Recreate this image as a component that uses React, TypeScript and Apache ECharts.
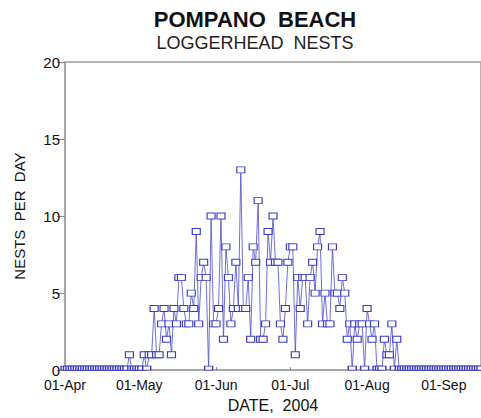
import React, { useEffect, useRef } from "react";
import * as echarts from "echarts";

const START_DATE = "2004-04-01";
const DAY_COUNT = 169;
const MONTHS = ["Jan","Feb","Mar","Apr","May","Jun","Jul","Aug","Sep","Oct","Nov","Dec"];

const dates: string[] = (() => {
  const out: string[] = [];
  const s = new Date(START_DATE + "T00:00:00Z");
  for (let i = 0; i < DAY_COUNT; i++) {
    const d = new Date(s.getTime() + i * 86400000);
    const dd = String(d.getUTCDate()).padStart(2, "0");
    out.push(dd + "-" + MONTHS[d.getUTCMonth()]);
  }
  return out;
})();

// nests per day, Apr 1 .. Sep 16, 2004
const nestsApr = [0,0,0,0,0,0,0,0,0,0,0,0,0,0,0,0,0,0,0,0,0,0,0,0,0,0,1,0,0,0];
const nestsMay = [0,0,1,0,1,1,4,1,1,3,4,2,3,1,4,3,6,6,4,3,3,5,4,9,3,6,7,6,0,10,3];
const nestsJun = [3,4,10,2,8,6,3,4,7,4,13,4,4,6,2,8,7,11,2,2,3,9,7,10,7,7,3,2,4,7];
const nestsJul = [8,8,1,6,4,6,6,3,6,7,5,8,9,3,5,3,3,8,5,5,4,6,5,2,3,0,3,2,3,3,0];
const nestsAug = [4,3,2,3,0,0,0,2,1,1,3,0,2,0,0,0,0,0,0,0,0,0,0,0,0,0,0,0,0,0,0];
const nestsSep = [0,0,0,0,0,0,0,0,0,0,0,0,0,0,0,0];

const nests = [...nestsApr, ...nestsMay, ...nestsJun, ...nestsJul, ...nestsAug, ...nestsSep];

const yTicks = [0, 5, 10, 15, 20];

const FONT = "'Liberation Sans', Arial, sans-serif";

export default function App() {
  const ref = useRef<HTMLDivElement>(null);
  useEffect(() => {
    if (!ref.current) return;
    const chart = echarts.init(ref.current, undefined, { renderer: "svg" });
    const isMonthStart = (_i: number, v: string) => v.startsWith("01-");
    const seriesData = nests.map((v) =>
      v === 0
        ? { value: v, symbolSize: [8, 4], symbolOffset: [0, -2] }
        : { value: v }
    );
    chart.setOption({
      animation: false,
      backgroundColor: "#ffffff",
      textStyle: { fontFamily: FONT },
      graphic: [
        {
          type: "text",
          x: 255,
          y: 8,
          style: {
            text: "POMPANO  BEACH",
            font: "bold 22px " + FONT,
            fill: "#111",
            textAlign: "center",
            textVerticalAlign: "top",
          },
        },
        {
          type: "text",
          x: 255,
          y: 34,
          style: {
            text: "LOGGERHEAD  NESTS",
            font: "18px " + FONT,
            fill: "#222",
            textAlign: "center",
            textVerticalAlign: "top",
          },
        },
      ],
      grid: {
        left: 65,
        top: 62,
        width: 420,
        height: 310,
        show: true,
        borderColor: "#a0a0a0",
        borderWidth: 1.5,
      },
      xAxis: {
        type: "category",
        data: dates,
        boundaryGap: false,
        name: "DATE,  2004",
        nameLocation: "middle",
        nameGap: 24,
        nameTextStyle: { fontSize: 16, color: "#111", fontFamily: FONT },
        axisLine: { show: true, lineStyle: { color: "#a0a0a0", width: 1.5 } },
        axisTick: { show: true, inside: true, length: 3, interval: isMonthStart, lineStyle: { color: "#888" } },
        axisLabel: { interval: isMonthStart, fontSize: 14, lineHeight: 14, color: "#111", margin: 8, fontFamily: FONT },
        splitLine: { show: false },
      },
      yAxis: {
        type: "value",
        min: yTicks[0],
        max: yTicks[yTicks.length - 1],
        interval: 5,
        name: "NESTS  PER  DAY",
        nameLocation: "middle",
        nameGap: 38,
        nameRotate: 90,
        nameTextStyle: { fontSize: 15, color: "#111", fontFamily: FONT },
        axisLine: { show: true, lineStyle: { color: "#a0a0a0", width: 1.5 } },
        axisTick: { show: true, inside: false, length: 8, lineStyle: { color: "#888" } },
        axisLabel: { fontSize: 15, lineHeight: 13, color: "#111", margin: 5, fontFamily: FONT },
        splitLine: { show: false },
      },
      series: [
        {
          type: "line",
          data: seriesData,
          symbol: "rect",
          symbolSize: [8, 6],
          showAllSymbol: true,
          clip: false,
          lineStyle: { color: "#4a4ad0", width: 0.8 },
          itemStyle: { color: "#ffffff", borderColor: "#3a3ac8", borderWidth: 1 },
        },
      ],
    });
    return () => chart.dispose();
  }, []);
  return (
    <div
      ref={ref}
      style={{ position: "fixed", left: 0, top: 0, width: 481, height: 418 }}
    />
  );
}
